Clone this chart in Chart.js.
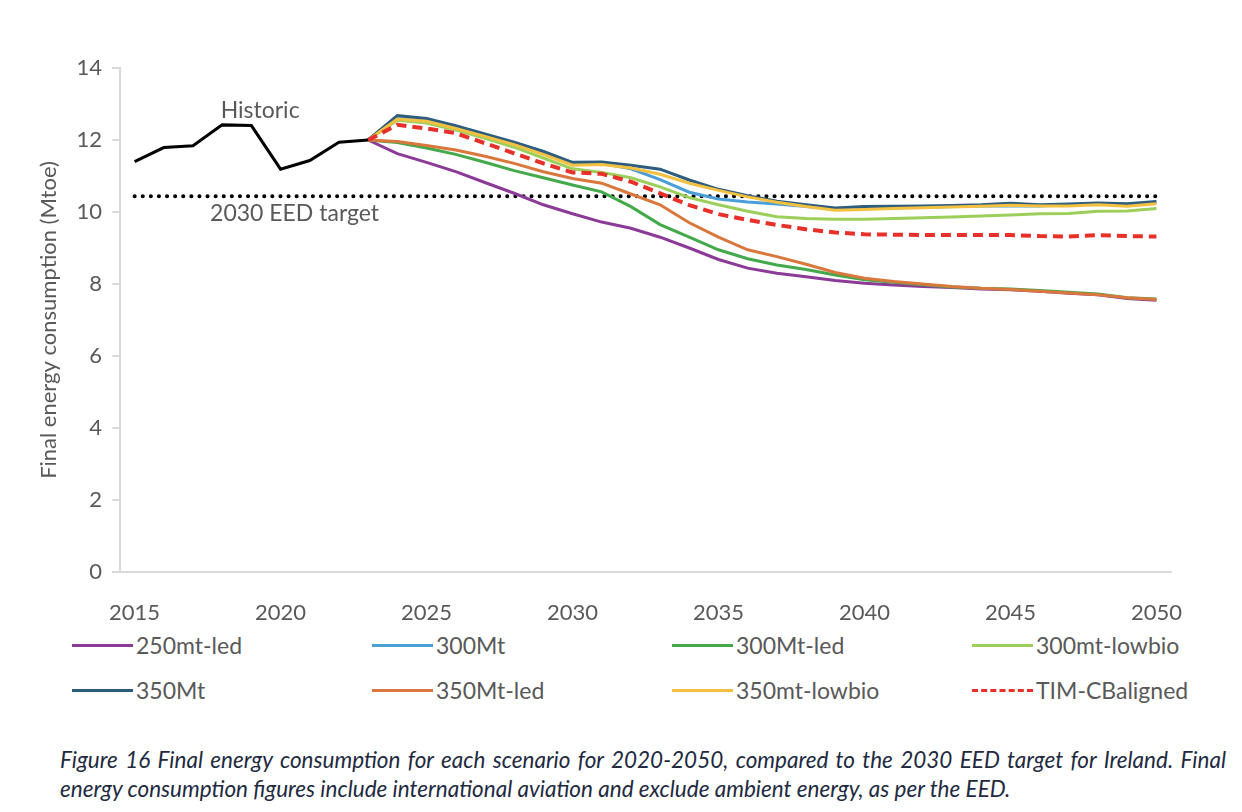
<!DOCTYPE html>
<html>
<head>
<meta charset="utf-8">
<script src="https://cdn.jsdelivr.net/npm/chart.js@4.4.1/dist/chart.umd.min.js"></script>
<style>
  body { margin: 0; background: #fff; width: 1242px; height: 812px; position: relative; overflow: hidden; font-family: Lato, sans-serif; }
  #wrap { position: absolute; left: 0; top: 0; width: 1242px; height: 622px; }
  #legenda { position: absolute; left: 0; top: 622px; width: 1242px; height: 90px; }
  .stavka { position: absolute; height: 26px; display: flex; align-items: center; color: #595959; font-size: 23px; }
  .crta { width: 61px; height: 0; border-top: 3px solid; margin-right: 3px; }
  #opis { position: absolute; left: 60px; top: 745px; width: 1166px; font-style: italic; font-size: 22.5px; color: #222a3f; line-height: 29px; }
  #opis .r1 { text-align: justify; text-align-last: justify; }
</style>
</head>
<body>
<div id="wrap"><canvas id="graf"></canvas></div>
<div id="legenda"></div>
<div id="opis">
  <div class="r1">Figure 16 Final energy consumption for each scenario for 2020-2050, compared to the 2030 EED target for Ireland. Final</div>
  <div>energy consumption figures include international aviation and exclude ambient energy, as per the EED.</div>
</div>
<script>
// godine na osi x
const godine = [];
for (let g = 2015; g <= 2050; g++) godine.push(g);

// povijesni podaci 2015-2023
const povijest = [11.40, 11.79, 11.84, 12.42, 12.40, 11.19, 11.43, 11.94, 12.0];

// cilj EED za 2030
const cilj = 10.44;

// scenariji 2023-2050
const s250mtLed = [12.0, 11.62, 11.38, 11.12, 10.82, 10.52, 10.2, 9.95, 9.72, 9.55, 9.3, 9.0, 8.68, 8.44, 8.3, 8.2, 8.1, 8.02, 7.97, 7.93, 7.9, 7.86, 7.84, 7.8, 7.74, 7.7, 7.6, 7.55];
const s300Mt = [12.0, 12.65, 12.57, 12.37, 12.15, 11.92, 11.68, 11.35, 11.35, 11.2, 10.9, 10.55, 10.36, 10.28, 10.22, 10.15, 10.08, 10.1, 10.12, 10.13, 10.15, 10.17, 10.17, 10.17, 10.2, 10.22, 10.2, 10.27];
const s300MtLed = [12.0, 11.93, 11.78, 11.6, 11.38, 11.15, 10.95, 10.75, 10.56, 10.15, 9.65, 9.3, 8.95, 8.7, 8.53, 8.4, 8.25, 8.12, 8.05, 7.98, 7.92, 7.88, 7.86, 7.82, 7.77, 7.72, 7.62, 7.58];
const s300mtLowbio = [12.0, 12.55, 12.47, 12.28, 12.05, 11.8, 11.5, 11.2, 11.1, 10.95, 10.7, 10.4, 10.2, 10.02, 9.87, 9.82, 9.8, 9.8, 9.82, 9.84, 9.86, 9.89, 9.92, 9.95, 9.96, 10.02, 10.03, 10.1];
const s350Mt = [12.0, 12.68, 12.6, 12.4, 12.17, 11.94, 11.68, 11.38, 11.39, 11.3, 11.19, 10.89, 10.63, 10.45, 10.3, 10.2, 10.11, 10.15, 10.16, 10.17, 10.18, 10.2, 10.24, 10.2, 10.22, 10.25, 10.23, 10.29];
const s350MtLed = [12.0, 11.96, 11.85, 11.72, 11.55, 11.35, 11.12, 10.93, 10.8, 10.5, 10.2, 9.7, 9.3, 8.95, 8.76, 8.55, 8.32, 8.16, 8.07, 8.0, 7.93, 7.88, 7.85, 7.8, 7.75, 7.7, 7.62, 7.57];
const s350mtLowbio = [12.0, 12.58, 12.52, 12.32, 12.1, 11.87, 11.6, 11.3, 11.32, 11.22, 11.05, 10.8, 10.6, 10.42, 10.27, 10.15, 10.05, 10.07, 10.1, 10.12, 10.14, 10.16, 10.19, 10.17, 10.17, 10.2, 10.16, 10.23];
const sTimCB = [12.0, 12.42, 12.32, 12.19, 11.91, 11.63, 11.35, 11.1, 11.06, 10.84, 10.52, 10.19, 9.94, 9.78, 9.64, 9.52, 9.43, 9.38, 9.37, 9.36, 9.36, 9.36, 9.36, 9.33, 9.32, 9.36, 9.33, 9.32];

const nazivi = ['250mt-led', '300Mt', '300Mt-led', '300mt-lowbio', '350Mt', '350Mt-led', '350mt-lowbio', 'TIM-CBaligned'];
const boje = ['#8B3A98', '#4A9FD8', '#43A94B', '#9BCF5A', '#2E5C7D', '#D9773D', '#F3C03F', '#E8302A'];
const scenariji = [s250mtLed, s300Mt, s300MtLed, s300mtLowbio, s350Mt, s350MtLed, s350mtLowbio, sTimCB];
// redoslijed crtanja (manji = iznad)
const redoslijed = [8, 7, 6, 5, 4, 3, 2, 1];

const sivo = '#595959';
const osi = '#d9d9d9';

// scenariji počinju 2023.
const odmak = godine.indexOf(2023);
const popuni = arr => godine.map((g, i) => (i < odmak ? null : arr[i - odmak]));

const skupovi = scenariji.map((arr, i) => ({
  label: nazivi[i],
  data: popuni(arr),
  borderColor: boje[i],
  borderWidth: i === 7 ? 4 : 3,
  borderDash: i === 7 ? [10, 6] : [],
  pointRadius: 0,
  tension: 0,
  order: redoslijed[i],
}));

skupovi.push({
  label: 'Historic',
  data: godine.map((g, i) => (i < povijest.length ? povijest[i] : null)),
  borderColor: '#000',
  borderWidth: 3,
  pointRadius: 0,
  order: 0,
});

skupovi.push({
  label: '2030 EED target',
  data: godine.map(() => cilj),
  borderColor: '#000',
  borderWidth: 4,
  borderDash: [0.1, 8],
  borderCapStyle: 'round',
  pointRadius: 0,
  order: 9,
});

// natpisi na grafu
const natpisi = {
  id: 'natpisi',
  afterDatasetsDraw(chart) {
    const { ctx, scales } = chart;
    ctx.save();
    ctx.font = '23px Lato';
    ctx.fillStyle = sivo;
    ctx.textAlign = 'center';
    ctx.textBaseline = 'middle';
    ctx.fillText('Historic', scales.x.getPixelForValue(4.3), scales.y.getPixelForValue(12.83));
    ctx.fillText('2030 EED target', scales.x.getPixelForValue(5.48), scales.y.getPixelForValue(9.97));
    ctx.restore();
  },
};

new Chart(document.getElementById('graf'), {
  type: 'line',
  data: { labels: godine, datasets: skupovi },
  plugins: [natpisi],
  options: {
    responsive: true,
    maintainAspectRatio: false,
    animation: false,
    layout: { padding: { left: 36, right: 71, top: 68, bottom: 0 } },
    plugins: { legend: { display: false }, tooltip: { enabled: false } },
    scales: {
      x: {
        offset: true,
        grid: { display: false },
        border: { display: true, color: osi, width: 2 },
        ticks: {
          autoSkip: false,
          maxRotation: 0,
          padding: 20,
          color: sivo,
          font: { family: 'Lato', size: 22 },
          callback: function (v) {
            const g = godine[v];
            return g % 5 === 0 ? String(g) : '';
          },
        },
        afterFit: s => { s.height = 50; },
      },
      y: {
        min: 0,
        max: 14,
        grid: { drawOnChartArea: false, drawTicks: true, tickLength: 8, color: osi, lineWidth: 2 },
        border: { display: true, color: osi, width: 2 },
        ticks: { stepSize: 2, padding: 10, color: sivo, font: { family: 'Lato', size: 22 } },
        title: {
          display: true,
          text: 'Final energy consumption (Mtoe)',
          color: sivo,
          font: { family: 'Lato', size: 22 },
          padding: { top: 0, bottom: 0 },
        },
        afterFit: s => { s.width = 84; },
      },
    },
  },
});

// legenda ispod grafa
const legenda = document.getElementById('legenda');
const stupci = [72, 372, 672, 972];
const redovi = [10, 55];
nazivi.forEach((n, i) => {
  const d = document.createElement('div');
  d.className = 'stavka';
  d.style.left = stupci[i % 4] + 'px';
  d.style.top = redovi[Math.floor(i / 4)] + 'px';
  const crta = i === 7
    ? `<span class="crta" style="border-top: 3px dashed ${boje[i]}"></span>`
    : `<span class="crta" style="border-color: ${boje[i]}"></span>`;
  d.innerHTML = crta + `<span>${n}</span>`;
  legenda.appendChild(d);
});
</script>
</body>
</html>
